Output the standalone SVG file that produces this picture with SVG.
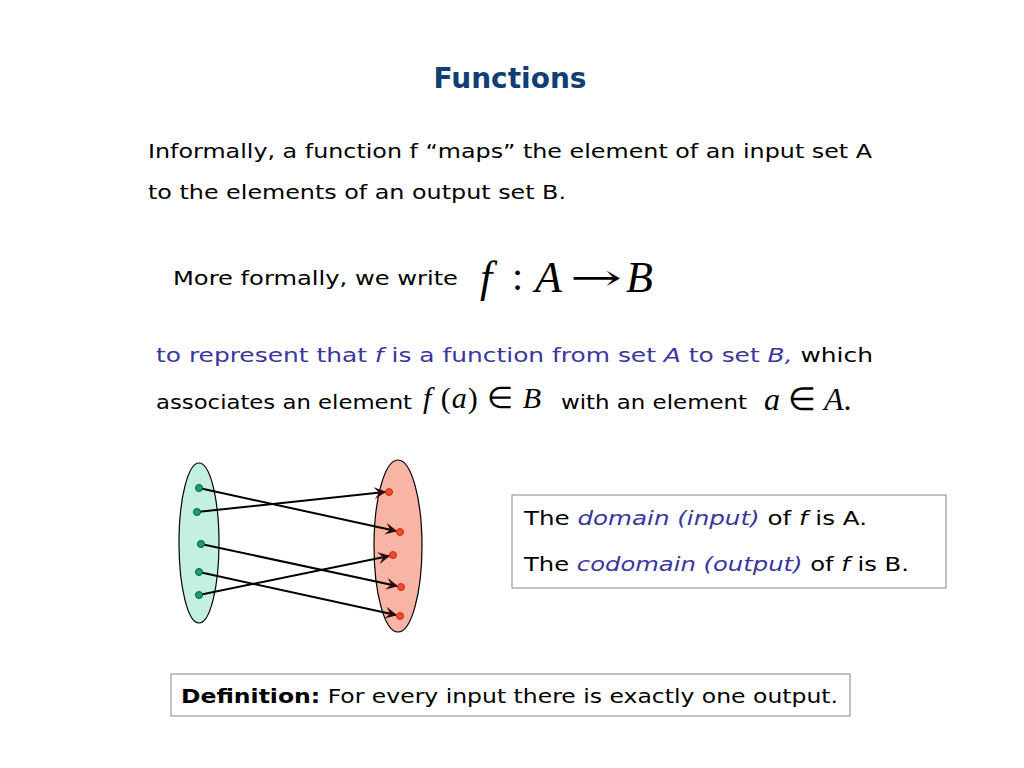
<svg xmlns="http://www.w3.org/2000/svg" width="1024" height="768" viewBox="0 0 1024 768">
<defs>
<marker id="ah" viewBox="0 0 10 10" refX="9" refY="5" markerWidth="14" markerHeight="12" orient="auto" markerUnits="userSpaceOnUse"><path d="M0,0 L10,5 L0,10 L4,5 z" fill="#2a0a05"/></marker>
<style>
text{font-family:"DejaVu Sans",sans-serif;font-size:20px;fill:#000}
.m{font-family:"Liberation Serif",serif;font-style:italic}
.b{fill:#3a36a0}
.c{stroke:#000;stroke-width:2;fill:none;marker-end:url(#ah)}
.ld{fill:#1aa070;stroke:#0a5a3a;stroke-width:1}
.rd{fill:#f04a2a;stroke:#c03010;stroke-width:1}
</style>
</defs>
<rect width="1024" height="768" fill="#fff"/>
<text x="510" y="88" text-anchor="middle" style="font-size:28px;font-weight:bold;fill:#0f3f74">Functions</text>
<text x="148" y="158" textLength="724" lengthAdjust="spacingAndGlyphs">Informally, a function f “maps” the element of an input set A</text>
<text x="148" y="199" textLength="418" lengthAdjust="spacingAndGlyphs">to the elements of an output set B.</text>
<text x="173" y="285" textLength="285" lengthAdjust="spacingAndGlyphs">More formally, we write</text>
<text x="480" y="292" class="m" style="font-size:44px">f</text>
<text x="512" y="290" style="font-family:'Liberation Serif',serif;font-size:40px">:</text>
<text x="535" y="292" class="m" style="font-size:44px">A</text>
<text x="570" y="290" textLength="52" lengthAdjust="spacingAndGlyphs" style="font-family:'DejaVu Serif',serif;font-size:36px">→</text>
<text x="626" y="292" class="m" style="font-size:44px">B</text>
<text x="156" y="362" textLength="717" lengthAdjust="spacingAndGlyphs"><tspan class="b">to represent that </tspan><tspan class="b" font-style="italic">f</tspan><tspan class="b">  is a function from set </tspan><tspan class="b" font-style="italic">A</tspan><tspan class="b"> to set </tspan><tspan class="b" font-style="italic">B,</tspan> which</text>
<text x="156" y="409" textLength="256" lengthAdjust="spacingAndGlyphs">associates an element</text>
<text x="423" y="408" textLength="118" lengthAdjust="spacing" style="font-family:'Liberation Serif',serif;font-size:30px"><tspan font-style="italic">f</tspan> (<tspan font-style="italic">a</tspan>) ∈ <tspan font-style="italic">B</tspan></text>
<text x="561" y="409" textLength="186" lengthAdjust="spacingAndGlyphs">with an element</text>
<text x="764" y="410" style="font-family:'Liberation Serif',serif;font-size:32px"><tspan font-style="italic">a</tspan> ∈ <tspan font-style="italic">A</tspan>.</text>
<g id="setA"><ellipse cx="199" cy="543" rx="20" ry="80" fill="#c4f0e4" stroke="#000" stroke-width="1.2"/></g>
<g id="setB"><ellipse cx="398" cy="546" rx="24" ry="86" fill="#f8b4a4" stroke="#000" stroke-width="1.2"/></g>
<g id="connectors">
<line class="c" x1="199" y1="488" x2="396" y2="531"/>
<line class="c" x1="197" y1="512" x2="385" y2="492"/>
<line class="c" x1="201" y1="544" x2="397" y2="586"/>
<line class="c" x1="199" y1="572" x2="396" y2="615"/>
<line class="c" x1="199" y1="595" x2="389" y2="556"/>
</g>
<g id="pointsA">
<circle class="ld" cx="199" cy="488" r="3.5"/><circle class="ld" cx="197" cy="512" r="3.5"/><circle class="ld" cx="201" cy="544" r="3.5"/><circle class="ld" cx="199" cy="572" r="3.5"/><circle class="ld" cx="199" cy="595" r="3.5"/>
</g>
<g id="pointsB">
<circle class="rd" cx="389" cy="492" r="3.5"/><circle class="rd" cx="400" cy="532" r="3.5"/><circle class="rd" cx="393" cy="555" r="3.5"/><circle class="rd" cx="401" cy="587" r="3.5"/><circle class="rd" cx="400" cy="616" r="3.5"/>
</g>
<g id="domainBox">
<rect x="512" y="495" width="434" height="93" fill="#fff" stroke="#999" stroke-width="1.2"/>
<text x="524" y="525" textLength="343" lengthAdjust="spacingAndGlyphs">The <tspan class="b" font-style="italic">domain (input)</tspan> of <tspan font-style="italic">f</tspan>  is A.</text>
<text x="524" y="571" textLength="385" lengthAdjust="spacingAndGlyphs">The <tspan class="b" font-style="italic">codomain (output)</tspan> of <tspan font-style="italic">f</tspan>  is B.</text>
</g>
<g id="definition">
<rect x="171" y="674" width="679" height="42" fill="#fff" stroke="#999" stroke-width="1.2"/>
<text x="181" y="703" textLength="657" lengthAdjust="spacingAndGlyphs"><tspan font-weight="bold">Definition:</tspan> For every input there is exactly one output.</text>
</g>
</svg>
